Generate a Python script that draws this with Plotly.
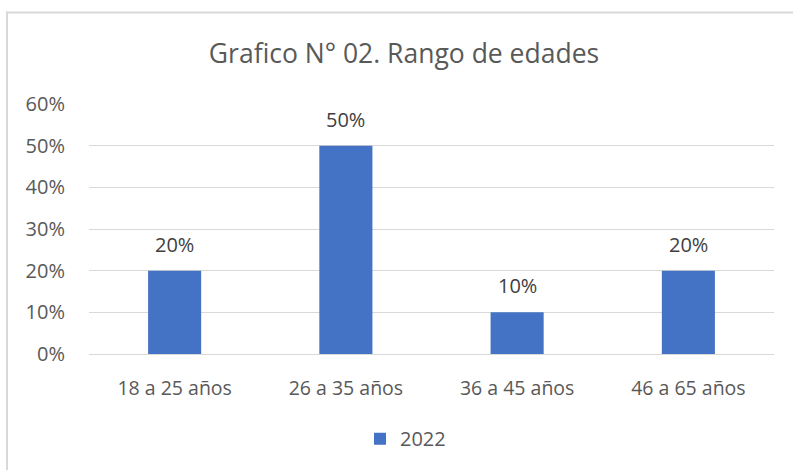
import plotly.graph_objects as go

categories = ["18 a 25 años", "26 a 35 años", "36 a 45 años", "46 a 65 años"]
values_2022 = [0.20, 0.50, 0.10, 0.20]
series_name = "2022"
title_text = "Grafico N° 02. Rango de edades"

W, H = 793, 470
L, R, T, B = 89, 19, 103.5, 114
pw, ph = W - L - R, H - T - B

def px_x(x):
    return (x - L) / pw

def px_y(y):
    return (H - B - y) / ph

FONT = "Open Sans"
GRID = "#d9d9d9"
TXT = "#595959"

fig = go.Figure()
fig.add_trace(go.Bar(
    x=categories, y=values_2022, name=series_name,
    marker=dict(color="#4472C4", line=dict(width=0)),
    showlegend=True,
))

for c, v in zip(categories, values_2022):
    fig.add_annotation(x=c, y=v, text=f"{v:.0%}", showarrow=False,
                       yanchor="bottom", yshift=11,
                       font=dict(size=20, color="#404040", family=FONT))

fig.update_layout(
    width=W, height=H,
    margin=dict(l=L, r=R, t=T, b=B),
    paper_bgcolor="white", plot_bgcolor="white",
    bargap=0.69,
    title=dict(text=title_text, x=404 / W, xanchor="center", xref="container",
               y=1 - 54 / H, yanchor="middle", yref="container",
               font=dict(size=26.5, color=TXT, family=FONT)),
    font=dict(family=FONT, color=TXT),
    showlegend=True,
    legend=dict(orientation="h", x=px_x(360), xanchor="left",
                y=px_y(441.5), yanchor="middle",
                font=dict(size=20, color=TXT, family=FONT),
                itemwidth=30, bgcolor="rgba(0,0,0,0)"),
    xaxis=dict(showgrid=False, showline=False, ticks="", ticklabelstandoff=20,
               tickfont=dict(size=19.5, color=TXT, family=FONT), fixedrange=True),
    yaxis=dict(range=[0, 0.6], dtick=0.1, tickformat=".0%", showgrid=True,
               gridcolor=GRID, gridwidth=1.3, zeroline=True, zerolinecolor=GRID,
               zerolinewidth=1.3, showline=False, ticks="", ticklabelstandoff=23,
               tickfont=dict(size=20, color=TXT, family=FONT), fixedrange=True),
    shapes=[
        dict(type="line", xref="paper", yref="paper", x0=px_x(6), x1=px_x(810),
             y0=px_y(11), y1=px_y(11), line=dict(color=GRID, width=2)),
        dict(type="line", xref="paper", yref="paper", x0=px_x(7), x1=px_x(7),
             y0=px_y(10), y1=px_y(490), line=dict(color=GRID, width=2)),
    ],
)

fig.write_html("out.html", config={"displayModeBar": False},
               post_script="document.body.style.margin='0';document.body.style.overflow='hidden';")
